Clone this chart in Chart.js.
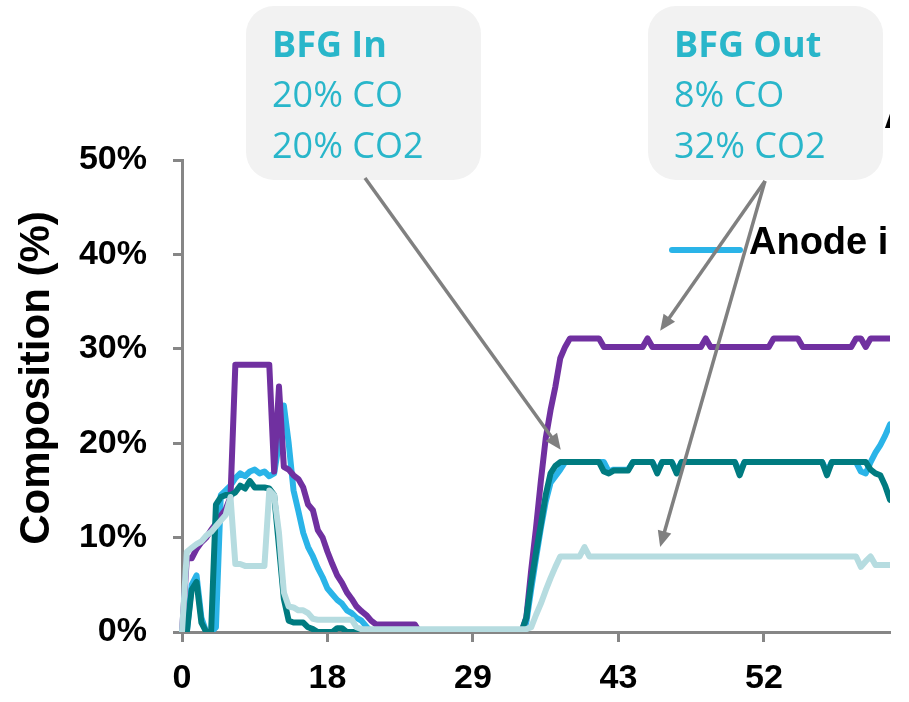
<!DOCTYPE html>
<html>
<head>
<meta charset="utf-8">
<script src="https://cdn.jsdelivr.net/npm/chart.js@4/dist/chart.umd.min.js"></script>
<style>
  html, body { margin: 0; padding: 0; background: #fff; }
  #wrap { width: 909px; height: 702px; position: relative; }
</style>
</head>
<body>
<div id="wrap"><canvas id="chart"></canvas></div>
<script>
// x tick labels (one every 30 samples)
const TICK_LABELS = ['0', '18', '29', '43', '52'];
const TICK_EVERY = 30;
const Y_TITLE = 'Composition (%)';

// composition values, % (one per sample)
const purpleSeries = [
  0, 7.8, 7.8, 8.8, 9.5, 10, 10.8, 11.5, 12.3, 13,
  14.3, 28.3, 28.3, 28.3, 28.3, 28.3, 28.3, 28.3, 28.3, 17,
  26, 17.5, 17.2, 16.6, 16.2, 15.3, 13.5, 12.9, 10.8, 10,
  8.5, 7.2, 6, 5.2, 4.2, 3.5, 2.7, 2.2, 1.8, 1.2,
  0.8, 0.8, 0.8, 0.8, 0.8, 0.8, 0.8, 0.8, 0.8, 0,
  0, 0, 0, 0, 0, 0, 0, 0, 0, 0,
  0, 0, 0, 0, 0, 0, 0, 0, 0, 0,
  0, 1.5, 6.5, 11, 16, 20.5, 23.5, 26, 29, 30.2,
  31.1, 31.1, 31.1, 31.1, 31.1, 31.1, 31.1, 30.2, 30.2, 30.2,
  30.2, 30.2, 30.2, 30.2, 30.2, 30.2, 31.1, 30.2, 30.2, 30.2,
  30.2, 30.2, 30.2, 30.2, 30.2, 30.2, 30.2, 30.2, 31.1, 30.2,
  30.2, 30.2, 30.2, 30.2, 30.2, 30.2, 30.2, 30.2, 30.2, 30.2,
  30.2, 30.2, 31.1, 31.1, 31.1, 31.1, 31.1, 31.1, 30.2, 30.2,
  30.2, 30.2, 30.2, 30.2, 30.2, 30.2, 30.2, 30.2, 30.2, 31.1,
  31.1, 30.2, 31.1, 31.1, 31.1, 31.1, 31.1
];
const tealSeries = [
  0, 0, 4.5, 5.3, 1, 0, 0, 13.5, 14.3, 14.5,
  14.5, 14.8, 15.5, 15.2, 16, 15.3, 15.3, 15.3, 15.2, 14.5,
  9, 3.5, 1.2, 1, 1, 1, 0.5, 0.3, 0, 0,
  0, 0, 0.4, 0.4, 0, 0, 0, 0, 0, 0,
  0, 0, 0, 0, 0, 0, 0, 0, 0, 0,
  0, 0, 0, 0, 0, 0, 0, 0, 0, 0,
  0, 0, 0, 0, 0, 0, 0, 0, 0, 0,
  0, 1.5, 5.2, 8.4, 11.4, 14.5, 16.8, 17.6, 18, 18,
  18, 18, 18, 18, 18, 18, 18, 17, 16.8, 17.1,
  17.1, 17.1, 17.1, 18, 18, 18, 18, 18, 16.8, 18,
  18, 18, 16.8, 18, 18, 18, 18, 18, 18, 18,
  18, 18, 18, 18, 18, 16.6, 18, 18, 18, 18,
  18, 18, 18, 18, 18, 18, 18, 18, 18, 18,
  18, 18, 18, 16.6, 18, 18, 18, 18, 18, 18,
  18, 18, 17.2, 16.8, 16.6, 15.5, 14
];
const anodeInSeries = [
  0, 0, 5, 6, 1.5, 0, 0, 0.5, 14.5, 15,
  15.5, 16.3, 16.8, 16.5, 17, 17.2, 16.8, 17, 16.5, 16.8,
  20, 24, 20, 15, 12.8, 10.5, 9, 8, 6.8, 5.8,
  4.6, 4, 3.4, 3, 2.3, 2, 1.5, 1.2, 0.6, 0,
  0, 0, 0, 0, 0, 0, 0, 0, 0, 0,
  0, 0, 0, 0, 0, 0, 0, 0, 0, 0,
  0, 0, 0, 0, 0, 0, 0, 0, 0, 0,
  0, 1, 4.5, 7.8, 11, 13.8, 15.8, 16.5, 17.2, 18,
  18, 18, 18, 18, 18, 18, 18, 18, 17, 17.2,
  17.2, 17.2, 17.2, 18, 18, 18, 18, 18, 17, 18,
  18, 18, 17, 18, 18, 18, 18, 18, 18, 18,
  18, 18, 18, 18, 18, 17, 18, 18, 18, 18,
  18, 18, 18, 18, 18, 18, 18, 18, 18, 18,
  18, 18, 18, 17, 18, 18, 18, 18, 18, 18,
  17, 16.8, 18, 19, 19.8, 20.8, 22
];
const paleSeries = [
  0, 8.5, 8.9, 9.3, 9.6, 10.2, 10.6, 11.2, 11.8, 12.4,
  14.3, 7.2, 7.2, 7, 7, 7, 7, 7, 15, 14.5,
  10.5, 4.2, 2.7, 2.6, 2.3, 2.3, 2, 1.4, 1.3, 1.3,
  1.3, 1.3, 1.3, 1.3, 1.3, 1.3, 0.5, 0.3, 0.3, 0.3,
  0.3, 0.3, 0.3, 0.3, 0.3, 0.3, 0.3, 0.3, 0.3, 0.3,
  0.3, 0.3, 0.3, 0.3, 0.3, 0.3, 0.3, 0.3, 0.3, 0.3,
  0.3, 0.3, 0.3, 0.3, 0.3, 0.3, 0.3, 0.3, 0.3, 0.3,
  0.3, 0.3, 0.5, 1.8, 3, 4.4, 5.7, 6.9, 8, 8,
  8, 8, 8, 9, 8, 8, 8, 8, 8, 8,
  8, 8, 8, 8, 8, 8, 8, 8, 8, 8,
  8, 8, 8, 8, 8, 8, 8, 8, 8, 8,
  8, 8, 8, 8, 8, 8, 8, 8, 8, 8,
  8, 8, 8, 8, 8, 8, 8, 8, 8, 8,
  8, 8, 8, 8, 8, 8, 8, 8, 8, 8,
  6.9, 7.5, 8, 7.1, 7.1, 7.1, 7.1
];

const PURPLE = '#7030A0';
const BLUE = '#2AB4E8';
const TEAL = '#007B80';
const PALE = '#B6DCE0';
const AXIS = '#868686';
const CALLOUT_TEXT = '#29B6CA';

// callout boxes: title + lines, arrow tips given in data units [sample, %]
const callouts = [
  { x: 246, y: 6, w: 235, h: 174, title: 'BFG In', lines: ['20% CO', '20% CO2'],
    from: [365, 178], tips: [[78.1, 19.3]] },
  { x: 648, y: 6, w: 235, h: 174, title: 'BFG Out', lines: ['8% CO', '32% CO2'],
    from: [765, 181], tips: [[98.6, 31.9], [98.6, 9.0]] }
];

const labels = purpleSeries.map((v, i) => i);

function arrow(ctx, x0, y0, x1, y1) {
  const a = Math.atan2(y1 - y0, x1 - x0);
  const head = 16, half = 7;
  ctx.beginPath();
  ctx.moveTo(x0, y0);
  ctx.lineTo(x1 - Math.cos(a) * (head - 2), y1 - Math.sin(a) * (head - 2));
  ctx.stroke();
  ctx.beginPath();
  ctx.moveTo(x1, y1);
  ctx.lineTo(x1 - Math.cos(a) * head + Math.sin(a) * half, y1 - Math.sin(a) * head - Math.cos(a) * half);
  ctx.lineTo(x1 - Math.cos(a) * head - Math.sin(a) * half, y1 - Math.sin(a) * head + Math.cos(a) * half);
  ctx.closePath();
  ctx.fill();
}

const overlay = {
  id: 'overlay',
  afterDraw(chart) {
    const ctx = chart.ctx;
    const xs = chart.scales.x, ys = chart.scales.y;

    // axis title
    ctx.save();
    ctx.translate(37, 378);
    ctx.rotate(-Math.PI / 2);
    ctx.font = 'bold 42px "Liberation Sans", Arial, sans-serif';
    ctx.fillStyle = '#000';
    ctx.textAlign = 'center';
    ctx.textBaseline = 'middle';
    ctx.fillText(Y_TITLE, 0, 0);
    ctx.restore();

    // legend (cut at the plot's right edge like the source)
    ctx.save();
    ctx.beginPath();
    ctx.rect(0, 0, chart.chartArea.right, chart.height);
    ctx.clip();
    const legend = [
      { text: chart.data.datasets[2].label, color: PURPLE, x: 807, y: 124 },
      { text: chart.data.datasets[3].label, color: BLUE, x: 672, y: 250 }
    ];
    ctx.font = 'bold 38px "Liberation Sans", Arial, sans-serif';
    ctx.textBaseline = 'middle';
    ctx.fillStyle = '#000';
    legend.forEach(it => {
      ctx.strokeStyle = it.color;
      ctx.lineWidth = 6;
      ctx.lineCap = 'round';
      ctx.beginPath();
      ctx.moveTo(it.x, it.y);
      ctx.lineTo(it.x + 68, it.y);
      ctx.stroke();
      ctx.fillText(it.text, it.x + 77, it.y - 6);
    });
    ctx.restore();

    // callout boxes
    ctx.save();
    callouts.forEach(c => {
      ctx.fillStyle = '#F2F2F2';
      ctx.beginPath();
      ctx.roundRect(c.x, c.y, c.w, c.h, 28);
      ctx.fill();
      ctx.fillStyle = CALLOUT_TEXT;
      ctx.textBaseline = 'alphabetic';
      ctx.font = 'bold 36px "Open Sans", sans-serif';
      ctx.fillText(c.title, c.x + 26, c.y + 51);
      ctx.font = '36px "Open Sans", sans-serif';
      c.lines.forEach((t, i) => ctx.fillText(t, c.x + 26, c.y + 101 + i * 51));
    });
    ctx.strokeStyle = '#808080';
    ctx.fillStyle = '#808080';
    ctx.lineWidth = 3.5;
    ctx.lineCap = 'butt';
    callouts.forEach(c => {
      c.tips.forEach(t => {
        arrow(ctx, c.from[0], c.from[1], xs.getPixelForValue(t[0]), ys.getPixelForValue(t[1]));
      });
    });
    ctx.restore();
  }
};

const lineStyle = {
  borderWidth: 6,
  pointRadius: 0,
  tension: 0,
  fill: false,
  borderJoinStyle: 'round',
  borderCapStyle: 'round',
  clip: { left: 6, top: 10, right: 0, bottom: 0 }
};

new Chart(document.getElementById('chart'), {
  type: 'line',
  data: {
    labels: labels,
    datasets: [
      { label: 'Cathode out', data: paleSeries, borderColor: PALE, ...lineStyle },
      { label: 'Cathode in', data: tealSeries, borderColor: TEAL, ...lineStyle },
      { label: 'Anode out', data: purpleSeries, borderColor: PURPLE, ...lineStyle },
      { label: 'Anode in', data: anodeInSeries, borderColor: BLUE, ...lineStyle }
    ]
  },
  options: {
    responsive: true,
    maintainAspectRatio: false,
    animation: false,
    layout: { padding: { top: 160, right: 19, left: 0, bottom: 0 } },
    plugins: { legend: { display: false }, tooltip: { enabled: false } },
    scales: {
      x: {
        type: 'category',
        afterFit: s => { s.height = 70; },
        border: { color: AXIS, width: 3 },
        grid: {
          drawOnChartArea: false,
          tickLength: 10,
          tickWidth: 3,
          color: c => (c.index % TICK_EVERY === 0 ? AXIS : 'rgba(0,0,0,0)')
        },
        ticks: {
          autoSkip: false,
          maxRotation: 0,
          minRotation: 0,
          padding: 16,
          color: '#000',
          font: { family: '"Liberation Sans", Arial, sans-serif', size: 34, weight: 'bold' },
          callback: (v, i) => (i % TICK_EVERY === 0 ? (TICK_LABELS[i / TICK_EVERY] || '') : '')
        }
      },
      y: {
        min: 0,
        max: 50,
        afterFit: s => { s.width = 182; },
        border: { color: AXIS, width: 3 },
        grid: { drawOnChartArea: false, tickLength: 9, tickWidth: 3, color: AXIS },
        ticks: {
          stepSize: 10,
          padding: 26,
          color: '#000',
          font: { family: '"Liberation Sans", Arial, sans-serif', size: 34, weight: 'bold' },
          callback: v => v + '%'
        }
      }
    }
  },
  plugins: [overlay]
});
</script>
</body>
</html>
